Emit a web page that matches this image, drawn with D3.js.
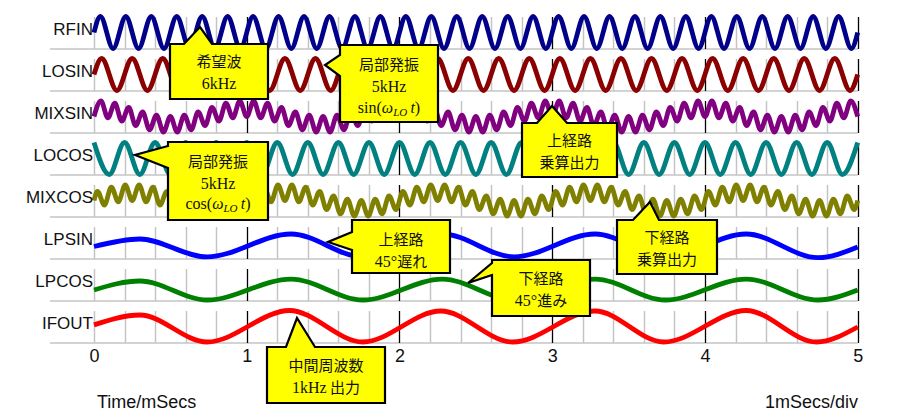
<!DOCTYPE html>
<html><head><meta charset="utf-8">
<script src="https://cdn.jsdelivr.net/npm/d3@7"></script>
<style>html,body{margin:0;padding:0;background:#fff;}svg{display:block}</style>
</head><body>
<svg id="chart" width="900" height="420"></svg>
<script>
// ---------------- data ----------------
const traceNames = ["RFIN","LOSIN","MIXSIN","LOCOS","MIXCOS","LPSIN","LPCOS","IFOUT"];
const timeTicks = [0,1,2,3,4,5];
const gridTicks = [0,0.2,0.4,0.6,0.8,1,1.2,1.4,1.6,1.8,2,2.2,2.4,2.6,2.8,3,3.2,3.4,3.6,3.8,4,4.2,4.4,4.6,4.8,5];
const xTitle = "Time/mSecs";
const divLabel = "1mSecs/div";

// RFIN 6kHz: extrema times (ms) and values
const rfinT = [0,
0.0417,0.125,0.2083,0.2917,0.375,0.4583,0.5417,0.625,0.7083,0.7917,0.875,0.9583,
1.0417,1.125,1.2083,1.2917,1.375,1.4583,1.5417,1.625,1.7083,1.7917,1.875,1.9583,
2.0417,2.125,2.2083,2.2917,2.375,2.4583,2.5417,2.625,2.7083,2.7917,2.875,2.9583,
3.0417,3.125,3.2083,3.2917,3.375,3.4583,3.5417,3.625,3.7083,3.7917,3.875,3.9583,
4.0417,4.125,4.2083,4.2917,4.375,4.4583,4.5417,4.625,4.7083,4.7917,4.875,4.9583,
5];
const rfinV = [0,
1,-1,1,-1,1,-1,1,-1,1,-1,1,-1,
1,-1,1,-1,1,-1,1,-1,1,-1,1,-1,
1,-1,1,-1,1,-1,1,-1,1,-1,1,-1,
1,-1,1,-1,1,-1,1,-1,1,-1,1,-1,
1,-1,1,-1,1,-1,1,-1,1,-1,1,-1,
0];

// LOSIN 5kHz
const losinT = [0,
0.05,0.15,0.25,0.35,0.45,0.55,0.65,0.75,0.85,0.95,
1.05,1.15,1.25,1.35,1.45,1.55,1.65,1.75,1.85,1.95,
2.05,2.15,2.25,2.35,2.45,2.55,2.65,2.75,2.85,2.95,
3.05,3.15,3.25,3.35,3.45,3.55,3.65,3.75,3.85,3.95,
4.05,4.15,4.25,4.35,4.45,4.55,4.65,4.75,4.85,4.95,
5];
const losinV = [0,
1,-1,1,-1,1,-1,1,-1,1,-1,
1,-1,1,-1,1,-1,1,-1,1,-1,
1,-1,1,-1,1,-1,1,-1,1,-1,
1,-1,1,-1,1,-1,1,-1,1,-1,
1,-1,1,-1,1,-1,1,-1,1,-1,
0];

// MIXSIN (RF x LO sin)
const mixsinT = [
0,0.0455,0.0909,0.1364,0.1818,0.2273,0.2727,0.3182,0.3636,0.4091,0.4545,0.5,0.5455,0.5909,0.6364,0.6818,0.7273,0.7727,0.8182,0.8636,0.9091,0.9545,
1,1.0455,1.0909,1.1364,1.1818,1.2273,1.2727,1.3182,1.3636,1.4091,1.4545,1.5,1.5455,1.5909,1.6364,1.6818,1.7273,1.7727,1.8182,1.8636,1.9091,1.9545,
2,2.0455,2.0909,2.1364,2.1818,2.2273,2.2727,2.3182,2.3636,2.4091,2.4545,2.5,2.5455,2.5909,2.6364,2.6818,2.7273,2.7727,2.8182,2.8636,2.9091,2.9545,
3,3.0455,3.0909,3.1364,3.1818,3.2273,3.2727,3.3182,3.3636,3.4091,3.4545,3.5,3.5455,3.5909,3.6364,3.6818,3.7273,3.7727,3.8182,3.8636,3.9091,3.9545,
4,4.0455,4.0909,4.1364,4.1818,4.2273,4.2727,4.3182,4.3636,4.4091,4.4545,4.5,4.5455,4.5909,4.6364,4.6818,4.7273,4.7727,4.8182,4.8636,4.9091,4.9545,
5];
const mixsinV = [
0,0.98,-0.08,0.83,-0.29,0.57,-0.57,0.29,-0.83,0.08,-0.98,0,-0.98,0.08,-0.83,0.29,-0.57,0.57,-0.29,0.83,-0.08,0.98,
0,0.98,-0.08,0.83,-0.29,0.57,-0.57,0.29,-0.83,0.08,-0.98,0,-0.98,0.08,-0.83,0.29,-0.57,0.57,-0.29,0.83,-0.08,0.98,
0,0.98,-0.08,0.83,-0.29,0.57,-0.57,0.29,-0.83,0.08,-0.98,0,-0.98,0.08,-0.83,0.29,-0.57,0.57,-0.29,0.83,-0.08,0.98,
0,0.98,-0.08,0.83,-0.29,0.57,-0.57,0.29,-0.83,0.08,-0.98,0,-0.98,0.08,-0.83,0.29,-0.57,0.57,-0.29,0.83,-0.08,0.98,
0,0.98,-0.08,0.83,-0.29,0.57,-0.57,0.29,-0.83,0.08,-0.98,0,-0.98,0.08,-0.83,0.29,-0.57,0.57,-0.29,0.83,-0.08,0.98,
0];

// LOCOS 5kHz
const locosT = [0,0.1,0.2,0.3,0.4,0.5,0.6,0.7,0.8,0.9,
1,1.1,1.2,1.3,1.4,1.5,1.6,1.7,1.8,1.9,
2,2.1,2.2,2.3,2.4,2.5,2.6,2.7,2.8,2.9,
3,3.1,3.2,3.3,3.4,3.5,3.6,3.7,3.8,3.9,
4,4.1,4.2,4.3,4.4,4.5,4.6,4.7,4.8,4.9,
5];
const locosV = [1,-1,1,-1,1,-1,1,-1,1,-1,
1,-1,1,-1,1,-1,1,-1,1,-1,
1,-1,1,-1,1,-1,1,-1,1,-1,
1,-1,1,-1,1,-1,1,-1,1,-1,
1,-1,1,-1,1,-1,1,-1,1,-1,
1];

// MIXCOS (RF x LO cos)
const mixcosT = [0,
0.0227,0.0682,0.1136,0.1591,0.2045,0.25,0.2955,0.3409,0.3864,0.4318,0.4773,0.5227,0.5682,0.6136,0.6591,0.7045,0.75,0.7955,0.8409,0.8864,0.9318,0.9773,
1.0227,1.0682,1.1136,1.1591,1.2045,1.25,1.2955,1.3409,1.3864,1.4318,1.4773,1.5227,1.5682,1.6136,1.6591,1.7045,1.75,1.7955,1.8409,1.8864,1.9318,1.9773,
2.0227,2.0682,2.1136,2.1591,2.2045,2.25,2.2955,2.3409,2.3864,2.4318,2.4773,2.5227,2.5682,2.6136,2.6591,2.7045,2.75,2.7955,2.8409,2.8864,2.9318,2.9773,
3.0227,3.0682,3.1136,3.1591,3.2045,3.25,3.2955,3.3409,3.3864,3.4318,3.4773,3.5227,3.5682,3.6136,3.6591,3.7045,3.75,3.7955,3.8409,3.8864,3.9318,3.9773,
4.0227,4.0682,4.1136,4.1591,4.2045,4.25,4.2955,4.3409,4.3864,4.4318,4.4773,4.5227,4.5682,4.6136,4.6591,4.7045,4.75,4.7955,4.8409,4.8864,4.9318,4.9773,
5];
const mixcosV = [0,
0.57,-0.29,0.83,-0.08,0.98,0,0.98,-0.08,0.83,-0.29,0.57,-0.57,0.29,-0.83,0.08,-0.98,0,-0.98,0.08,-0.83,0.29,-0.57,
0.57,-0.29,0.83,-0.08,0.98,0,0.98,-0.08,0.83,-0.29,0.57,-0.57,0.29,-0.83,0.08,-0.98,0,-0.98,0.08,-0.83,0.29,-0.57,
0.57,-0.29,0.83,-0.08,0.98,0,0.98,-0.08,0.83,-0.29,0.57,-0.57,0.29,-0.83,0.08,-0.98,0,-0.98,0.08,-0.83,0.29,-0.57,
0.57,-0.29,0.83,-0.08,0.98,0,0.98,-0.08,0.83,-0.29,0.57,-0.57,0.29,-0.83,0.08,-0.98,0,-0.98,0.08,-0.83,0.29,-0.57,
0.57,-0.29,0.83,-0.08,0.98,0,0.98,-0.08,0.83,-0.29,0.57,-0.57,0.29,-0.83,0.08,-0.98,0,-0.98,0.08,-0.83,0.29,-0.57,
0];

// Low-pass outputs (1kHz)
const lpsinT = [0,0.30,0.74,1.29,1.76,2.28,2.75,3.28,3.74,4.27,4.74,5];
const lpsinV = [-0.25,0.22,-0.9,0.53,-0.9,0.53,-0.9,0.53,-0.9,0.53,-0.95,-0.28];
const lpcosT = [0,0.30,0.74,1.29,1.76,2.28,2.75,3.28,3.74,4.27,4.74,5];
const lpcosV = [-0.34,0.22,-0.97,0.34,-0.97,0.34,-0.97,0.34,-0.97,0.34,-0.97,-0.34];
const ifoutT = [0,0.30,0.74,1.28,1.76,2.27,2.74,3.28,3.73,4.27,4.73,5];
const ifoutV = [0.1,0.72,-0.97,1.0,-0.97,0.97,-0.97,0.97,-0.97,1.0,-0.97,-0.03];

// ---------------- styles / layout ----------------
const traceColors = ["#00008b","#8b0000","#800080","#008080","#808000","#0000ff","#008000","#ff0000"];
const series = [
  d3.zip(rfinT, rfinV), d3.zip(losinT, losinV), d3.zip(mixsinT, mixsinV),
  d3.zip(locosT, locosV), d3.zip(mixcosT, mixcosV), d3.zip(lpsinT, lpsinV),
  d3.zip(lpcosT, lpcosV), d3.zip(ifoutT, ifoutV)
];

const svg = d3.select("#chart");
const x = d3.scaleLinear().domain([0,5]).range([94, 857.7]);
const band = d3.scaleBand().domain(traceNames).range([7, 343]).padding(0);
const bh = band.bandwidth();
const yLocal = d3.scaleLinear().domain([-1,1]).range([25.5+16, 25.5-16]);

const grid = svg.append("g");
grid.selectAll("line.h").data(traceNames).join("line")
  .attr("x1", 50).attr("x2", x(5))
  .attr("y1", d => band(d)+bh).attr("y2", d => band(d)+bh)
  .attr("stroke", "#c4c4c4").attr("stroke-width", 1.5);
traceNames.forEach(name => {
  const top = band(name);
  grid.append("g").selectAll("line").data(gridTicks).join("line")
    .attr("x1", d => Math.round(x(d))+0.5).attr("x2", d => Math.round(x(d))+0.5)
    .attr("y1", top+10).attr("y2", top+bh)
    .attr("stroke", d => (Number.isInteger(d) && d > 0) ? "#000" : "#c4c4c4")
    .attr("stroke-width", d => (Number.isInteger(d) && d > 0) ? 1.3 : 1.5);
});

const line = d3.line().x(d => x(d[0])).y(d => yLocal(d[1])).curve(d3.curveMonotoneX);
const traces = svg.append("g");
traceNames.forEach((name, i) => {
  traces.append("path")
    .attr("transform", `translate(0,${band(name)})`)
    .attr("d", line(series[i]))
    .attr("fill", "none").attr("stroke", traceColors[i])
    .attr("stroke-width", 4.8).attr("stroke-linejoin", "round").attr("stroke-linecap", "butt");
});

svg.append("g").selectAll("text").data(traceNames).join("text")
  .attr("x", 93).attr("y", d => band(d)+28)
  .attr("text-anchor", "end")
  .attr("font-family", "'Liberation Sans', Arial, sans-serif").attr("font-size", 17)
  .attr("fill", "#111").text(d => d);

const axis = d3.axisBottom(x).tickValues(timeTicks).tickSize(0).tickPadding(6).tickFormat(d3.format("d"));
const ax = svg.append("g").attr("transform", "translate(0,343)").call(axis);
ax.select(".domain").remove();
ax.selectAll("text").attr("font-family", "'Liberation Sans', Arial, sans-serif").attr("font-size", 18).attr("fill", "#111");

svg.append("text").attr("x", 97).attr("y", 408)
  .attr("font-family", "'Liberation Sans', Arial, sans-serif").attr("font-size", 18).attr("fill", "#111").text(xTitle);
svg.append("text").attr("x", 858).attr("y", 408).attr("text-anchor", "end")
  .attr("font-family", "'Liberation Sans', Arial, sans-serif").attr("font-size", 18).attr("fill", "#111").text(divLabel);

// ---------------- callouts ----------------
const JP = "'Noto Sans CJK JP', sans-serif";
const SERIF = "'Liberation Serif', 'DejaVu Serif', serif";
const sinLine = [{t:"sin(",f:SERIF},{t:"ω",f:SERIF,it:1},{t:"LO",f:SERIF,it:1,sub:1},{t:"\u2009t",f:SERIF,it:1},{t:")",f:SERIF}];
const cosLine = [{t:"cos(",f:SERIF},{t:"ω",f:SERIF,it:1},{t:"LO",f:SERIF,it:1,sub:1},{t:"\u2009t",f:SERIF,it:1},{t:")",f:SERIF}];
const callouts = [
  {box:[170,44,268,99], dir:"up", tip:[200,27], a:184, b:212,
   lines:[[{t:"希望波",f:JP}],[{t:"6kHz",f:SERIF}]], ys:[61,83]},
  {box:[340,45,438,122], dir:"left", tip:[325,65], a:55, b:76,
   lines:[[{t:"局部発振",f:JP}],[{t:"5kHz",f:SERIF}],sinLine], ys:[64,86,107]},
  {box:[522,123,617,177], dir:"up", tip:[552,106], a:537, b:567,
   lines:[[{t:"上経路",f:JP}],[{t:"乗算出力",f:JP}]], ys:[140,162]},
  {box:[168,142,268,220], dir:"left", tip:[135,155], a:146, b:168,
   lines:[[{t:"局部発振",f:JP}],[{t:"5kHz",f:SERIF}],cosLine], ys:[161,183,203]},
  {box:[352,220,450,273], dir:"left", tip:[328,242], a:232, b:250,
   lines:[[{t:"上経路",f:JP}],[{t:"45°",f:SERIF},{t:"遅れ",f:JP}]], ys:[239,261]},
  {box:[617,220,717,274], dir:"up", tip:[650,202], a:633, b:659,
   lines:[[{t:"下経路",f:JP}],[{t:"乗算出力",f:JP}]], ys:[237,259]},
  {box:[492,260,590,316], dir:"left", tip:[468,283], a:263, b:275,
   lines:[[{t:"下経路",f:JP}],[{t:"45°",f:SERIF},{t:"進み",f:JP}]], ys:[278,300]},
  {box:[267,347,385,403], dir:"up", tip:[297,318], a:286, b:315,
   lines:[[{t:"中間周波数",f:JP}],[{t:"1kHz",f:SERIF},{t:" 出力",f:JP}]], ys:[365,387]}
];

const cg = svg.append("g");
callouts.forEach(c => {
  const [x0,y0,x1,y1] = c.box;
  const p = d3.path();
  if (c.dir === "up") {
    p.moveTo(x0,y0); p.lineTo(c.a,y0); p.lineTo(c.tip[0],c.tip[1]); p.lineTo(c.b,y0);
    p.lineTo(x1,y0); p.lineTo(x1,y1); p.lineTo(x0,y1); p.closePath();
  } else {
    p.moveTo(x0,y0); p.lineTo(x1,y0); p.lineTo(x1,y1); p.lineTo(x0,y1);
    p.lineTo(x0,c.b); p.lineTo(c.tip[0],c.tip[1]); p.lineTo(x0,c.a); p.closePath();
  }
  cg.append("path").attr("d", p.toString())
    .attr("fill", "#ffff00").attr("stroke", "#000").attr("stroke-width", 2.2).attr("stroke-linejoin", "miter");
  const cx = (x0+x1)/2;
  c.lines.forEach((parts, li) => {
    const t = cg.append("text").attr("x", cx).attr("y", c.ys[li]+5.5)
      .attr("text-anchor", "middle").attr("font-size", 15).attr("fill", "#111");
    let shifted = false;
    parts.forEach(pt => {
      const ts = t.append("tspan").attr("font-family", pt.f).text(pt.t);
      if (pt.f === SERIF) ts.attr("font-size", 16);
      if (pt.it) ts.attr("font-style", "italic");
      if (pt.sub) { ts.attr("font-size", 11).attr("dy", 3); shifted = true; }
      else if (shifted) { ts.attr("dy", -3); shifted = false; }
    });
  });
});
</script>
</body></html>
